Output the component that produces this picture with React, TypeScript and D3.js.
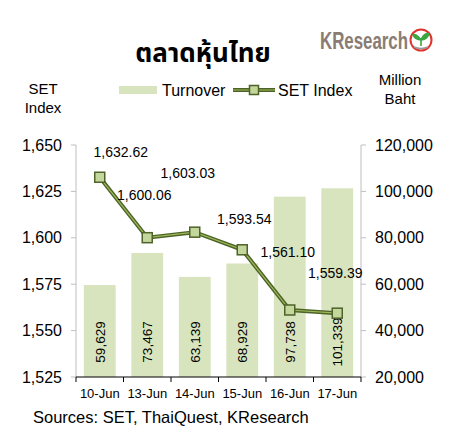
import React from "react";
import * as d3 from "d3";

const dates = ["10-Jun", "13-Jun", "14-Jun", "15-Jun", "16-Jun", "17-Jun"];
const turnover = [59629, 73467, 63139, 68929, 97738, 101339];
const setIndex = [1632.62, 1600.06, 1603.03, 1593.54, 1561.1, 1559.39];
const leftTicks = [1525, 1550, 1575, 1600, 1625, 1650];
const rightTicks = [20000, 40000, 60000, 80000, 100000, 120000];
// label offsets (dx, dy) relative to point
const labelDx = [21, -3, -7, 2, -2, -2];
const labelDy = [-25, -43, -59, -31, -58, -40];

const W = 453, H = 442;
const M = { left: 76, right: 361, top: 145, bottom: 377 };
const FONT = "'Liberation Sans', Arial, sans-serif";

export default function App() {
  const x = d3.scaleBand<string>().domain(dates).range([M.left, M.right]).paddingInner(0.33).paddingOuter(0.165);
  const xb = d3.scaleBand<string>().domain(dates).range([M.left, M.right]);
  const yL = d3.scaleLinear().domain([1525, 1650]).range([M.bottom, M.top]);
  const yR = d3.scaleLinear().domain([20000, 120000]).range([M.bottom, M.top]);
  const cx = (d: string) => (xb(d) as number) + xb.bandwidth() / 2;
  const line = d3.line<number>().x((_, i) => cx(dates[i])).y((v) => yL(v));
  const path = line(setIndex) as string;
  const fmt = d3.format(",");
  const fmt2 = d3.format(",.2f");

  return (
    <svg width={W} height={H} style={{ position: "absolute", left: 0, top: 0, background: "#fff" }} fontFamily={FONT}>
      <rect x={0} y={0} width={W} height={H} fill="#fff" />
      {/* title */}
      <text x={203} y={62} textAnchor="middle" fontSize={26} fontWeight="bold" fill="#000"
        fontFamily="'Noto Sans Thai','Noto Sans','DejaVu Sans',sans-serif">ตลาดหุ้นไทย</text>
      {/* logo */}
      <text x={320} y={49} fontSize={23} fontWeight="bold" fill="#8a7c72" textLength={88} lengthAdjust="spacingAndGlyphs">KResearch</text>
      <circle cx={421} cy={40} r={10.5} fill="#fff" stroke="#e0342e" strokeWidth={2} />
      <path d="M421,46 L421,38 M421,40 C417,34 414,34 413,35 C415,39 418,40 421,40 M421,40 C424,33 428,33 429,34 C427,39 424,40 421,40" stroke="#3aa640" strokeWidth={1.6} fill="#3aa640" />
      <path d="M414,47 Q421,50 428,47" stroke="#999" strokeWidth={1.5} fill="none" />
      {/* axis titles */}
      <text x={43} y={94} textAnchor="middle" fontSize={15} fill="#000">SET</text>
      <text x={43} y={113} textAnchor="middle" fontSize={15} fill="#000">Index</text>
      <text x={400} y={85} textAnchor="middle" fontSize={15} fill="#000">Million</text>
      <text x={400} y={104} textAnchor="middle" fontSize={15} fill="#000">Baht</text>
      {/* legend */}
      <rect x={119} y={86} width={38} height={8} fill="#d7e4bd" />
      <text x={162} y={95.5} fontSize={16} fill="#000">Turnover</text>
      <line x1={233} y1={90} x2={275} y2={90} stroke="#4f6228" strokeWidth={4} />
      <line x1={233} y1={90} x2={275} y2={90} stroke="#9bbb59" strokeWidth={1.2} />
      <rect x={249.5} y={85.5} width={9} height={9} fill="#c3d69b" stroke="#4f6228" strokeWidth={1.5} />
      <text x={278} y={95.5} fontSize={16} fill="#000">SET Index</text>
      {/* bars */}
      {turnover.map((v, i) => (
        <rect key={i} x={x(dates[i])} y={yR(v)} width={x.bandwidth()} height={M.bottom - yR(v)} fill="#d7e4bd" />
      ))}
      {turnover.map((v, i) => (
        <text key={"b" + i} transform={`translate(${cx(dates[i]) + 5},${342}) rotate(-90)`} textAnchor="middle" fontSize={13.5} fill="#000">{fmt(v)}</text>
      ))}
      {/* axes */}
      <line x1={M.left} y1={M.top} x2={M.left} y2={M.bottom} stroke="#bfbfbf" />
      <line x1={M.right} y1={M.top} x2={M.right} y2={M.bottom} stroke="#bfbfbf" />
      <line x1={M.left} y1={M.bottom} x2={M.right} y2={M.bottom} stroke="#000" />
      {leftTicks.map((t) => (
        <g key={"l" + t}>
          <line x1={M.left - 5} x2={M.left} y1={yL(t)} y2={yL(t)} stroke="#bfbfbf" />
          <text x={62} y={yL(t) + 5.5} textAnchor="end" fontSize={16} fill="#000">{fmt(t)}</text>
        </g>
      ))}
      {rightTicks.map((t) => (
        <g key={"r" + t}>
          <line x1={M.right} x2={M.right + 5} y1={yR(t)} y2={yR(t)} stroke="#bfbfbf" />
          <text x={375} y={yR(t) + 5.5} textAnchor="start" fontSize={16} fill="#000">{fmt(t)}</text>
        </g>
      ))}
      {dates.map((d, i) => (
        <g key={"x" + d}>
          <line x1={xb(d)} x2={xb(d)} y1={M.bottom} y2={M.bottom + 5} stroke="#000" />
          {i === dates.length - 1 && <line x1={M.right} x2={M.right} y1={M.bottom} y2={M.bottom + 5} stroke="#000" />}
          <text x={cx(d)} y={397.5} textAnchor="middle" fontSize={13} fill="#000">{d}</text>
        </g>
      ))}
      {/* line */}
      <path d={path} fill="none" stroke="#4f6228" strokeWidth={4} />
      <path d={path} fill="none" stroke="#9bbb59" strokeWidth={1.2} />
      {setIndex.map((v, i) => (
        <rect key={"m" + i} x={cx(dates[i]) - 5} y={yL(v) - 5} width={10} height={10} fill="#c3d69b" stroke="#4f6228" strokeWidth={1.5} />
      ))}
      {setIndex.map((v, i) => (
        <text key={"t" + i} x={cx(dates[i]) + labelDx[i]} y={yL(v) + labelDy[i] + 5} textAnchor="middle" fontSize={14} fill="#000">{fmt2(v)}</text>
      ))}
      {/* source */}
      <text x={33} y={423} fontSize={16.5} fill="#000">Sources: SET, ThaiQuest, KResearch</text>
    </svg>
  );
}
